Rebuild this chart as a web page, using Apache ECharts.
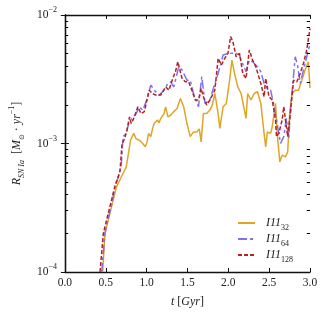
<!DOCTYPE html>
<html><head><meta charset="utf-8">
<script src="https://cdn.jsdelivr.net/npm/echarts@6/dist/echarts.min.js"></script>
<style>html,body{margin:0;padding:0;background:#fff}#c{width:328px;height:313px}</style>
</head><body><div id="c"></div>
<script>
const seriesNames = ['I11_32', 'I11_64', 'I11_128'];
const xTicks = [0, 0.5, 1.0, 1.5, 2.0, 2.5, 3.0];
const yMinorTicks = [2e-4,3e-4,4e-4,5e-4,6e-4,7e-4,8e-4,9e-4,2e-3,3e-3,4e-3,5e-3,6e-3,7e-3,8e-3,9e-3];

const i11_32 = [[0.462,1.0e-4],[0.49,1.99e-4],[0.53,2.53e-4],[0.57,3.21e-4],[0.631,4.6e-4],[0.671,5.18e-4],[0.711,5.84e-4],[0.751,6.58e-4],[0.771,7.87e-4],[0.803,1.06e-3],[0.823,1.13e-3],[0.843,1.2e-3],[0.871,1.09e-3],[0.892,1.1e-3],[0.912,1.06e-3],[0.952,1.0e-3],[0.984,9.42e-4],[1.004,1.02e-3],[1.024,1.2e-3],[1.052,1.13e-3],[1.072,1.3e-3],[1.092,1.43e-3],[1.133,1.52e-3],[1.153,1.45e-3],[1.173,1.57e-3],[1.213,1.71e-3],[1.233,1.93e-3],[1.261,1.61e-3],[1.293,1.66e-3],[1.333,1.77e-3],[1.353,1.72e-3],[1.373,1.87e-3],[1.414,2.24e-3],[1.454,1.93e-3],[1.494,1.43e-3],[1.534,1.13e-3],[1.574,1.23e-3],[1.614,1.23e-3],[1.645,1.3e-3],[1.667,1.03e-3],[1.695,1.71e-3],[1.735,1.71e-3],[1.775,1.82e-3],[1.805,2.0e-3],[1.835,2.45e-3],[1.876,1.71e-3],[1.896,1.31e-3],[1.936,1.93e-3],[1.976,2.05e-3],[2.016,3.11e-3],[2.044,4.46e-3],[2.076,3.51e-3],[2.116,2.76e-3],[2.157,2.45e-3],[2.189,1.93e-3],[2.217,1.57e-3],[2.237,2.45e-3],[2.277,2.18e-3],[2.317,2.45e-3],[2.357,2.53e-3],[2.398,2.05e-3],[2.438,1.2e-3],[2.458,9.42e-4],[2.478,1.23e-3],[2.518,1.2e-3],[2.538,1.35e-3],[2.578,2.05e-3],[2.598,1.2e-3],[2.631,7.2e-4],[2.659,8.11e-4],[2.699,7.87e-4],[2.727,8.6e-4],[2.751,1.71e-3],[2.779,2.45e-3],[2.819,2.6e-3],[2.859,2.6e-3],[2.900,3.11e-3],[2.940,3.73e-3],[2.980,4.33e-3],[3.0,2.7e-3]];

const i11_64 = [[0.450,1.0e-4],[0.49,1.99e-4],[0.53,2.6e-4],[0.57,3.3e-4],[0.62,4.8e-4],[0.66,5.6e-4],[0.69,6.8e-4],[0.711,1.13e-3],[0.751,1.2e-3],[0.791,1.52e-3],[0.831,1.57e-3],[0.871,1.71e-3],[0.912,1.93e-3],[0.952,1.82e-3],[0.992,2.1e-3],[1.052,2.85e-3],[1.092,2.6e-3],[1.153,2.38e-3],[1.213,2.6e-3],[1.261,2.93e-3],[1.293,3.02e-3],[1.333,2.76e-3],[1.394,3.96e-3],[1.434,3.73e-3],[1.494,3.11e-3],[1.534,3.11e-3],[1.574,2.45e-3],[1.635,1.93e-3],[1.675,3.31e-3],[1.715,2.05e-3],[1.775,2.18e-3],[1.835,2.93e-3],[1.876,3.51e-3],[1.936,4.88e-3],[1.996,5.03e-3],[2.056,5.03e-3],[2.096,5.03e-3],[2.137,4.88e-3],[2.157,4.46e-3],[2.217,3.62e-3],[2.257,4.46e-3],[2.297,4.33e-3],[2.357,3.96e-3],[2.398,3.62e-3],[2.438,2.93e-3],[2.478,2.68e-3],[2.518,2.6e-3],[2.558,1.99e-3],[2.598,1.43e-3],[2.639,1.0e-3],[2.679,1.13e-3],[2.711,1.57e-3],[2.739,1.09e-3],[2.759,1.71e-3],[2.779,2.45e-3],[2.819,4.73e-3],[2.847,4.08e-3],[2.880,2.93e-3],[2.920,3.73e-3],[2.980,5.34e-3],[3.0,5.9e-3]];

const i11_128 = [[0.430,1.0e-4],[0.47,1.99e-4],[0.51,2.53e-4],[0.55,3.21e-4],[0.61,4.6e-4],[0.651,5.5e-4],[0.675,6.2e-4],[0.70,1.0e-3],[0.731,1.09e-3],[0.759,1.27e-3],[0.791,1.61e-3],[0.811,1.43e-3],[0.851,1.61e-3],[0.892,1.93e-3],[0.932,1.71e-3],[0.972,1.77e-3],[1.032,2.6e-3],[1.072,2.45e-3],[1.112,2.38e-3],[1.173,2.38e-3],[1.233,2.76e-3],[1.273,2.6e-3],[1.313,3.11e-3],[1.353,3.62e-3],[1.382,4.33e-3],[1.434,3.21e-3],[1.474,3.02e-3],[1.514,3.02e-3],[1.554,2.6e-3],[1.594,2.18e-3],[1.635,2.18e-3],[1.667,2.68e-3],[1.695,2.31e-3],[1.735,1.99e-3],[1.775,2.18e-3],[1.835,2.6e-3],[1.876,4.6e-3],[1.916,4.08e-3],[1.956,4.6e-3],[1.996,5.03e-3],[2.028,6.78e-3],[2.056,6.2e-3],[2.096,4.73e-3],[2.137,5.03e-3],[2.177,3.51e-3],[2.217,3.21e-3],[2.257,5.34e-3],[2.297,4.46e-3],[2.337,3.96e-3],[2.398,2.93e-3],[2.438,2.31e-3],[2.458,3.21e-3],[2.498,2.31e-3],[2.538,2.18e-3],[2.578,1.52e-3],[2.590,1.13e-3],[2.618,1.2e-3],[2.659,1.52e-3],[2.679,1.93e-3],[2.711,1.35e-3],[2.727,1.13e-3],[2.759,1.71e-3],[2.799,3.11e-3],[2.839,3.02e-3],[2.880,3.51e-3],[2.920,4.2e-3],[2.960,5.34e-3],[3.0,7.87e-3]];

const FONT = '"Liberation Serif", "DejaVu Serif", serif';
const legendLabels = {
  'I11_32': '{i|I11}{s|32}',
  'I11_64': '{i|I11}{s|64}',
  'I11_128': '{i|I11}{s|128}'
};
const mathRich = {
  i: {fontFamily: FONT, fontStyle: 'italic', fontSize: 12, color: '#222', lineHeight: 14},
  n: {fontFamily: FONT, fontSize: 12, color: '#222', lineHeight: 14},
  s: {fontFamily: FONT, fontStyle: 'italic', fontSize: 8, color: '#222', verticalAlign: 'bottom', lineHeight: 8, padding: [0,0,-2,0]},
  so: {fontFamily: 'DejaVu Sans', fontSize: 7, color: '#222', verticalAlign: 'bottom', lineHeight: 8, padding: [0,0,-2,0]},
  p: {fontFamily: FONT, fontSize: 8, color: '#222', verticalAlign: 'top', lineHeight: 8, padding: [-2,0,0,0]}
};
const tickRich = {
  b: {fontFamily: FONT, fontSize: 11.5, color: '#222', lineHeight: 14},
  e: {fontFamily: FONT, fontSize: 8, color: '#222', verticalAlign: 'top', lineHeight: 8, padding: [-2,0,0,0]}
};

const chart = echarts.init(document.getElementById('c'), null, {renderer: 'canvas'});
const axisLine = {show: true, lineStyle: {color: '#111', width: 1.3}};
const colors = ['#E0A526', '#7F72F0', '#B52226'];
const minorLen = 0.04;

chart.setOption({
  animation: false,
  backgroundColor: '#fff',
  grid: {left: 61, right: 18, top: 15, bottom: 41},
  xAxis: [{
    type: 'value', min: 0, max: 3, interval: 0.5,
    axisLine: axisLine,
    axisTick: {show: true, inside: true, length: 4, lineStyle: {color: '#111', width: 1}},
    splitLine: {show: false},
    axisLabel: {fontFamily: FONT, fontSize: 11.5, color: '#222', margin: 5,
      formatter: v => v.toFixed(1)},
    name: '{i|t}{n| [}{i|Gyr}{n|]}',
    nameLocation: 'middle', nameGap: 23,
    nameTextStyle: {rich: mathRich}
  }, {
    type: 'value', min: 0, max: 3, interval: 0.5, position: 'top',
    axisLine: axisLine,
    axisTick: {show: true, inside: true, length: 4, lineStyle: {color: '#111', width: 1}},
    axisLabel: {show: false}, splitLine: {show: false}
  }],
  yAxis: [{
    type: 'log', logBase: 10, min: 1e-4, max: 1e-2,
    axisLine: axisLine,
    axisTick: {show: true, inside: true, length: 4, lineStyle: {color: '#111', width: 1}},
    splitLine: {show: false},
    axisLabel: {margin: 8, formatter: v => '{b|10}{e|−' + Math.round(-Math.log10(v)) + '}', rich: tickRich},
    name: '{i|R}{s|SN Ia}{n|  [}{i|M}{so|⊙}{n| · }{i|yr}{p|−1}{n|]}',
    nameLocation: 'middle', nameGap: 38, nameRotate: 90,
    nameTextStyle: {rich: mathRich}
  }, {
    type: 'log', logBase: 10, min: 1e-4, max: 1e-2, position: 'right',
    axisLine: axisLine,
    axisTick: {show: true, inside: true, length: 4, lineStyle: {color: '#111', width: 1}},
    axisLabel: {show: false}, splitLine: {show: false}
  }],
  legend: {
    data: seriesNames,
    orient: 'vertical', left: 232, top: 212,
    itemWidth: 17, itemHeight: 10, itemGap: 1,
    itemStyle: {opacity: 0},
    formatter: n => legendLabels[n],
    textStyle: {padding: [0,0,0,6], rich: {
      i: {fontFamily: FONT, fontStyle: 'italic', fontSize: 12, color: '#222', lineHeight: 14},
      s: {fontFamily: FONT, fontSize: 8, color: '#222', verticalAlign: 'bottom', lineHeight: 8, padding: [0,0,-2,0]}
    }}
  },
  series: [
    {name: seriesNames[0], type: 'line', data: i11_32, showSymbol: false, symbol: 'none', clip: true,
      lineStyle: {color: colors[0], width: 1.5}, itemStyle: {color: colors[0]}, z: 3},
    {name: seriesNames[1], type: 'line', data: i11_64, showSymbol: false, symbol: 'none', clip: true,
      lineStyle: {color: colors[1], width: 1.5, type: [9, 3, 3, 3]}, itemStyle: {color: colors[1]}, z: 4},
    {name: seriesNames[2], type: 'line', data: i11_128, showSymbol: false, symbol: 'none', clip: true,
      lineStyle: {color: colors[2], width: 1.5, type: [4, 2]}, itemStyle: {color: colors[2]}, z: 5},
    {name: 'minorTicks', type: 'line', data: [], z: 10,
      markLine: {silent: true, symbol: 'none', animation: false, label: {show: false},
        lineStyle: {color: '#000', type: 'solid', width: 1},
        emphasis: {disabled: true},
        data: yMinorTicks.map(v => [{coord: [0, v]}, {coord: [minorLen, v]}])
          .concat(yMinorTicks.map(v => [{coord: [3 - minorLen, v]}, {coord: [3, v]}]))}}
  ]
});
</script></body></html>
